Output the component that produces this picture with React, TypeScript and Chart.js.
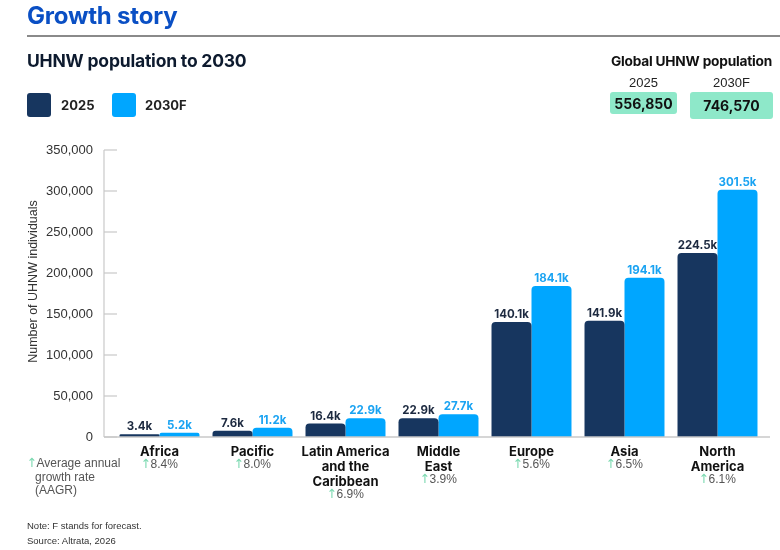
import React, { useEffect, useRef } from "react";
import { Chart, registerables } from "chart.js";

Chart.register(...registerables);

const categories: string[][] = [
  ["Africa"],
  ["Pacific"],
  ["Latin America", "and the", "Caribbean"],
  ["Middle", "East"],
  ["Europe"],
  ["Asia"],
  ["North", "America"],
];
const values2025 = [3400, 7600, 16400, 22900, 140100, 141900, 224500];
const values2030 = [5200, 11200, 22900, 27700, 184100, 194100, 301500];
const aagr = ["8.4%", "8.0%", "6.9%", "3.9%", "5.6%", "6.5%", "6.1%"];
const seriesNames = ["2025", "2030F"];
const globalTotals = ["556,850", "746,570"];
const yTicks = [0, 50000, 100000, 150000, 200000, 250000, 300000, 350000];

const DARK = "#17365f";
const LIGHT = "#00a6ff";
const GREEN = "#7bd9b0";
const HEAD = "Inter, 'Noto Sans', sans-serif";
const BODY = "'Liberation Sans', Arial, sans-serif";
const ARROW = "'DejaVu Sans', sans-serif";

const fmtK = (v: number) => (v / 1000).toFixed(1) + "k";

const overlay = {
  id: "overlay",
  afterDraw(chart: any) {
    const ctx = chart.ctx as CanvasRenderingContext2D;
    const y = chart.scales.y;
    const x = chart.scales.x;
    const area = chart.chartArea;
    const axisX = 104;
    ctx.save();
    // axis line
    ctx.strokeStyle = "#c9c9c9";
    ctx.lineWidth = 1.2;
    ctx.beginPath();
    ctx.moveTo(axisX, y.getPixelForValue(350000));
    ctx.lineTo(axisX, y.getPixelForValue(0));
    ctx.stroke();
    yTicks.forEach((t) => {
      const py = y.getPixelForValue(t);
      ctx.beginPath();
      ctx.moveTo(axisX, py);
      ctx.lineTo(axisX + 13, py);
      ctx.stroke();
    });
    // baseline
    ctx.lineWidth = 1.5;
    ctx.beginPath();
    ctx.moveTo(axisX, y.getPixelForValue(0));
    ctx.lineTo(770, y.getPixelForValue(0));
    ctx.stroke();

    // data labels
    ctx.font = `700 11.5px ${HEAD}`;
    ctx.textAlign = "center";
    ctx.textBaseline = "alphabetic";
    chart.data.datasets.forEach((ds: any, di: number) => {
      const meta = chart.getDatasetMeta(di);
      ctx.fillStyle = di === 0 ? "#1d2a40" : "#1aa3f2";
      meta.data.forEach((el: any, i: number) => {
        ctx.fillText(fmtK(ds.data[i]), el.x, el.y - 4);
      });
    });

    const drawGrowth = (text: string, cx: number | null, lx: number, ly: number) => {
      ctx.font = `12.5px ${ARROW}`;
      const arrow = "↑";
      const aw = ctx.measureText(arrow).width - 1;
      ctx.font = `12px ${BODY}`;
      const tw = ctx.measureText(text).width;
      const sx = cx === null ? lx : cx - (aw + tw) / 2;
      ctx.textAlign = "left";
      ctx.font = `12.5px ${ARROW}`;
      ctx.fillStyle = GREEN;
      ctx.fillText(arrow, sx - 0.5, ly);
      ctx.font = `12px ${BODY}`;
      ctx.fillStyle = "#555555";
      ctx.fillText(text, sx + aw, ly);
    };

    // category labels
    const base = y.getPixelForValue(0);
    categories.forEach((lines, i) => {
      const cx = x.getPixelForValue(i);
      let ly = base + 19;
      ctx.font = `700 13px ${HEAD}`;
      ctx.fillStyle = "#111111";
      ctx.textAlign = "center";
      lines.forEach((ln) => {
        ctx.fillText(ln, cx, ly);
        ly += 15;
      });
      ly -= 3;
      drawGrowth(aagr[i], cx, 0, ly);
    });

    // AAGR legend
    drawGrowth("Average annual", null, 27, 467);
    ctx.font = `12px ${BODY}`;
    ctx.fillStyle = "#555555";
    ctx.textAlign = "left";
    ctx.fillText("growth rate", 35, 481);
    ctx.fillText("(AAGR)", 35, 494);

    // y title
    ctx.save();
    ctx.translate(37, (area.top + area.bottom) / 2 - 12);
    ctx.rotate(-Math.PI / 2);
    ctx.textAlign = "center";
    ctx.font = `12.5px ${BODY}`;
    ctx.fillStyle = "#333333";
    ctx.fillText("Number of UHNW individuals", 0, 0);
    ctx.restore();
    ctx.restore();
  },
};

export default function App() {
  const ref = useRef<HTMLCanvasElement>(null);
  useEffect(() => {
    if (!ref.current) return;
    const chart = new Chart(ref.current, {
      type: "bar",
      data: {
        labels: categories,
        datasets: [
          {
            label: seriesNames[0],
            data: values2025,
            backgroundColor: DARK,
            borderRadius: { topLeft: 4, topRight: 4, bottomLeft: 0, bottomRight: 0 },
            borderSkipped: false,
            categoryPercentage: 0.86,
            barPercentage: 1,
          },
          {
            label: seriesNames[1],
            data: values2030,
            backgroundColor: LIGHT,
            borderRadius: { topLeft: 4, topRight: 4, bottomLeft: 0, bottomRight: 0 },
            borderSkipped: false,
            categoryPercentage: 0.86,
            barPercentage: 1,
          },
        ],
      },
      options: {
        responsive: false,
        animation: false,
        layout: { padding: { top: 150, bottom: 113, left: 0, right: 16 } },
        plugins: { legend: { display: false }, tooltip: { enabled: false } },
        scales: {
          x: { display: false, grid: { display: false } },
          y: {
            min: 0,
            max: 350000,
            afterFit: (s: any) => {
              s.width = 113;
            },
            afterBuildTicks: (s: any) => {
              s.ticks = yTicks.map((v) => ({ value: v }));
            },
            border: { display: false },
            grid: { display: false },
            ticks: {
              padding: 12,
              color: "#333333",
              font: { family: BODY, size: 13 },
              callback: (v: any) => Number(v).toLocaleString("en-US"),
            },
          },
        },
      },
      plugins: [overlay],
    });
    return () => chart.destroy();
  }, []);

  const abs = (s: React.CSSProperties): React.CSSProperties => ({ position: "absolute", margin: 0, ...s });

  return (
    <div style={{ position: "absolute", left: 0, top: 0, width: 780, height: 550, background: "#fff", overflow: "hidden" }}>
      <canvas ref={ref} width={780} height={550} style={abs({ left: 0, top: 0 })} />
      <div style={abs({ left: 27, top: 1, fontFamily: HEAD, fontWeight: 700, fontSize: 24, color: "#0a4fc4", letterSpacing: -0.2 })}>
        Growth story
      </div>
      <div style={abs({ left: 27, top: 35, width: 753, height: 2, background: "#8a8a8a" })} />
      <div style={abs({ left: 27, top: 50, fontFamily: HEAD, fontWeight: 700, fontSize: 17.5, color: "#0d1a2e", letterSpacing: -0.2 })}>
        UHNW population to 2030
      </div>
      <div style={abs({ left: 27, top: 93, width: 24, height: 24, borderRadius: 3, background: DARK })} />
      <div style={abs({ left: 61, top: 97, fontFamily: HEAD, fontWeight: 700, fontSize: 13, color: "#222" })}>{seriesNames[0]}</div>
      <div style={abs({ left: 112, top: 93, width: 24, height: 24, borderRadius: 3, background: LIGHT })} />
      <div style={abs({ left: 145, top: 97, fontFamily: HEAD, fontWeight: 700, fontSize: 13, color: "#222" })}>{seriesNames[1]}</div>

      <div style={abs({ left: 606, top: 53, width: 171, textAlign: "center", fontFamily: HEAD, fontWeight: 700, fontSize: 13.7, color: "#111", letterSpacing: -0.2, whiteSpace: "nowrap" })}>
        Global UHNW population
      </div>
      <div style={abs({ left: 610, top: 75, width: 67, textAlign: "center", fontFamily: BODY, fontSize: 13, color: "#222" })}>{seriesNames[0]}</div>
      <div style={abs({ left: 690, top: 75, width: 83, textAlign: "center", fontFamily: BODY, fontSize: 13, color: "#222" })}>{seriesNames[1]}</div>
      <div style={abs({ left: 610, top: 92, width: 67, height: 22, borderRadius: 3, background: "#8ee8c9", display: "flex", alignItems: "center", justifyContent: "center", fontFamily: HEAD, fontWeight: 700, fontSize: 14, color: "#111" })}>
        {globalTotals[0]}
      </div>
      <div style={abs({ left: 690, top: 92, width: 83, height: 27, borderRadius: 3, background: "#8ee8c9", display: "flex", alignItems: "center", justifyContent: "center", fontFamily: HEAD, fontWeight: 700, fontSize: 14, color: "#111" })}>
        {globalTotals[1]}
      </div>

      <div style={abs({ left: 27, top: 520, fontFamily: BODY, fontSize: 9.5, color: "#333" })}>Note: F stands for forecast.</div>
      <div style={abs({ left: 27, top: 535, fontFamily: BODY, fontSize: 9.5, color: "#333" })}>Source: Altrata, 2026</div>
    </div>
  );
}
